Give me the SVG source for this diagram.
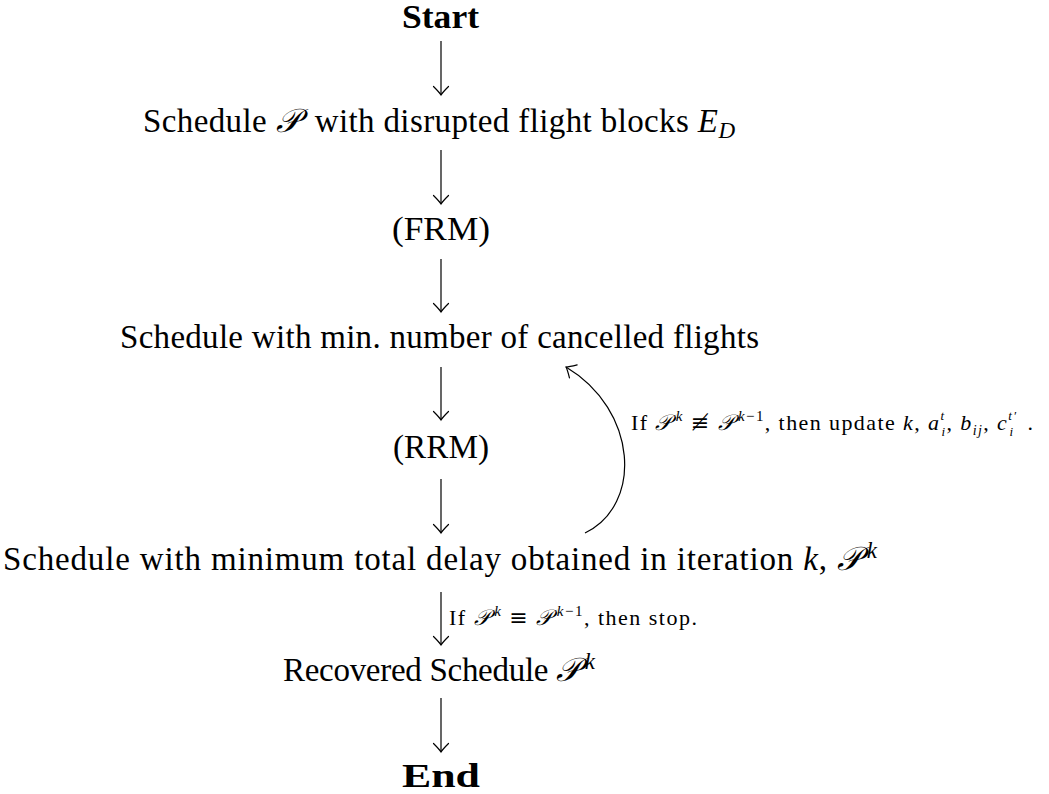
<svg xmlns="http://www.w3.org/2000/svg" width="1049" height="794" viewBox="0 0 1049 794">
  <style>
    .t { font-family: "Liberation Serif", "DejaVu Serif", serif; font-size: 33px; fill: #000; }
    .b { font-weight: bold; }
    .s { font-family: "Liberation Serif", "DejaVu Serif", serif; font-size: 22px; fill: #000; }
    .i { font-style: italic; }
    .m { font-family: "DejaVu Serif", "Liberation Serif", serif; }
    .edge { stroke: #000; stroke-width: 1.2; fill: none; marker-end: url(#arr); }
  </style>
  <defs>
    <marker id="arr" markerUnits="userSpaceOnUse" orient="auto" refX="0" refY="0" markerWidth="14" markerHeight="20" viewBox="-11 -10 13 20" overflow="visible">
      <path d="M -8.5,-7.5 Q -2.5,-1.5 0,0 Q -2.5,1.5 -8.5,7.5" stroke="#000" stroke-width="1.2" fill="none" stroke-linecap="round"/>
    </marker>
  </defs>
  <rect width="1049" height="794" fill="#fff"/>

  <g id="start">
    <text class="t b" x="402" y="28" textLength="77" lengthAdjust="spacingAndGlyphs">Start</text>
  </g>
  <g id="schedule-p">
    <text class="t" x="143" y="132" textLength="592" lengthAdjust="spacing">Schedule <tspan class="i">𝒫</tspan><tspan dx="6"> with disrupted flight blocks </tspan><tspan class="i">E</tspan><tspan class="i" font-size="23" dy="6">D</tspan></text>
  </g>
  <g id="frm">
    <text class="t" x="392" y="240" textLength="98" lengthAdjust="spacingAndGlyphs">(FRM)</text>
  </g>
  <g id="schedule-min-cancel">
    <text class="t" x="120" y="348" textLength="639" lengthAdjust="spacing">Schedule with min. number of cancelled flights</text>
  </g>
  <g id="rrm">
    <text class="t" x="393" y="458" textLength="96" lengthAdjust="spacingAndGlyphs">(RRM)</text>
  </g>
  <g id="schedule-min-delay">
    <text class="t" x="3" y="570" textLength="874" lengthAdjust="spacing">Schedule with minimum total delay obtained in iteration <tspan class="i">k</tspan>, <tspan class="i">𝒫</tspan><tspan class="i" font-size="23" dx="5" dy="-12">k</tspan></text>
  </g>
  <g id="recovered">
    <text class="t" x="283" y="681" textLength="312" lengthAdjust="spacing">Recovered Schedule <tspan class="i">𝒫</tspan><tspan class="i" font-size="23" dx="5" dy="-12">k</tspan></text>
  </g>
  <g id="end">
    <text class="t b" x="402" y="787" textLength="78" lengthAdjust="spacingAndGlyphs">End</text>
  </g>

  <g id="connectors">
    <line class="edge" x1="441" y1="41" x2="441" y2="95"/>
    <line class="edge" x1="441" y1="150" x2="441" y2="204"/>
    <line class="edge" x1="441" y1="259" x2="441" y2="312"/>
    <line class="edge" x1="441" y1="367" x2="441" y2="420"/>
    <line class="edge" x1="441" y1="479" x2="441" y2="533"/>
    <line class="edge" x1="441" y1="592" x2="441" y2="645"/>
    <line class="edge" x1="441" y1="698" x2="441" y2="752"/>
    <path class="edge" d="M 585,533 C 643,505 638,410 566,367"/>
    <text class="s" x="631" y="430" textLength="402" lengthAdjust="spacing">If <tspan class="i">𝒫</tspan><tspan class="i" font-size="15" dx="3" dy="-9">k</tspan><tspan dy="9"> </tspan><tspan class="m">≢</tspan> <tspan class="i">𝒫</tspan><tspan font-size="15" dx="3" dy="-9"><tspan class="i">k</tspan>−1</tspan><tspan dy="9">, then update </tspan><tspan class="i">k</tspan>, <tspan class="i">a</tspan><tspan class="i" font-size="13" dy="-10">t</tspan><tspan class="i" font-size="13" dx="-4" dy="16">i</tspan><tspan dy="-6">, </tspan><tspan class="i">b</tspan><tspan class="i" font-size="14" dy="5">ij</tspan><tspan dy="-5">, </tspan><tspan class="i">c</tspan><tspan class="i" font-size="13" dy="-10">t′</tspan><tspan class="i" font-size="13" dx="-8" dy="16">i</tspan><tspan dy="-6" dx="6"> .</tspan></text>
    <text class="s" x="449" y="625" textLength="248" lengthAdjust="spacing">If <tspan class="i">𝒫</tspan><tspan class="i" font-size="15" dx="3" dy="-9">k</tspan><tspan dy="9"> </tspan><tspan class="m">≡</tspan> <tspan class="i">𝒫</tspan><tspan font-size="15" dx="3" dy="-9"><tspan class="i">k</tspan>−1</tspan><tspan dy="9">, then stop.</tspan></text>
  </g>
</svg>
